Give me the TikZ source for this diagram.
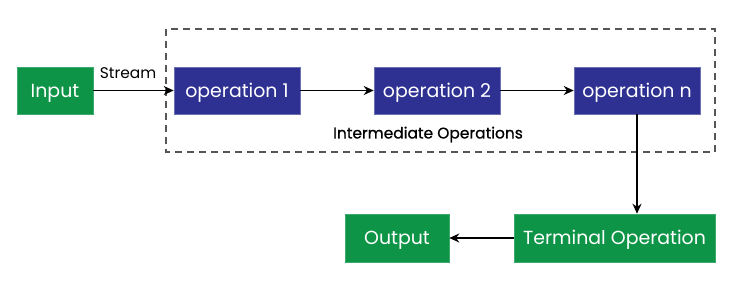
\documentclass[tikz,border=0pt]{standalone}
\usepackage{fontspec}
\setmainfont{Poppins}
\newfontfamily\medfont[FakeBold=0.8]{Poppins}
\usetikzlibrary{arrows.meta}
\definecolor{gfgreen}{HTML}{0E9447}
\definecolor{opblue}{HTML}{2E3192}
\definecolor{dashgray}{HTML}{555555}
\begin{document}
\begin{tikzpicture}[x=1bp,y=-1bp,
  greenbox/.style={fill=gfgreen,draw=gfgreen!80!white,line width=0.6bp,text=white,inner sep=0pt,font=\fontsize{19}{22}\selectfont,text height=13.3bp,text depth=0pt},
  bluebox/.style={fill=opblue,draw=opblue!70!white,line width=0.6bp,text=white,inner sep=0pt,font=\fontsize{19}{22}\selectfont,text height=13.3bp,text depth=0pt},
  conn/.style={-{Stealth[length=10bp,width=9bp]},line width=1.4bp,black},
  lbl/.style={font=\fontsize{15.5}{18}\selectfont,inner sep=0pt,text height=10.9bp,text depth=0pt}]
\useasboundingbox (0,0) rectangle (736,286);
\draw[dashgray,line width=1.2bp,dash pattern=on 7bp off 5bp] (166,29) rectangle (715,152);
\node[greenbox,minimum width=76bp,minimum height=47bp] (in) at (55,90.5) {Input};
\node[bluebox,minimum width=126bp,minimum height=47bp] (op1) at (237,90.5) {operation 1};
\node[bluebox,minimum width=126bp,minimum height=47bp] (op2) at (437,90.5) {operation 2};
\node[bluebox,minimum width=126bp,minimum height=47bp] (opn) at (637,90.5) {operation n};
\node[greenbox,minimum width=201bp,minimum height=48bp] (term) at (614.5,238) {Terminal Operation};
\node[greenbox,minimum width=104bp,minimum height=48bp] (out) at (397,238) {Output};
\node[lbl] (stream) at (128,73) {Stream};
\node[lbl,font=\fontsize{15.5}{18}\medfont] (inter) at (428,133) {Intermediate Operations};
\draw[conn] (in) -- (op1.west);
\draw[conn] (op1) -- (op2);
\draw[conn] (op2) -- (opn);
\draw[conn] (opn.south) -- (term.north -| opn.south);
\draw[conn] (term) -- (out);
\end{tikzpicture}
\end{document}
